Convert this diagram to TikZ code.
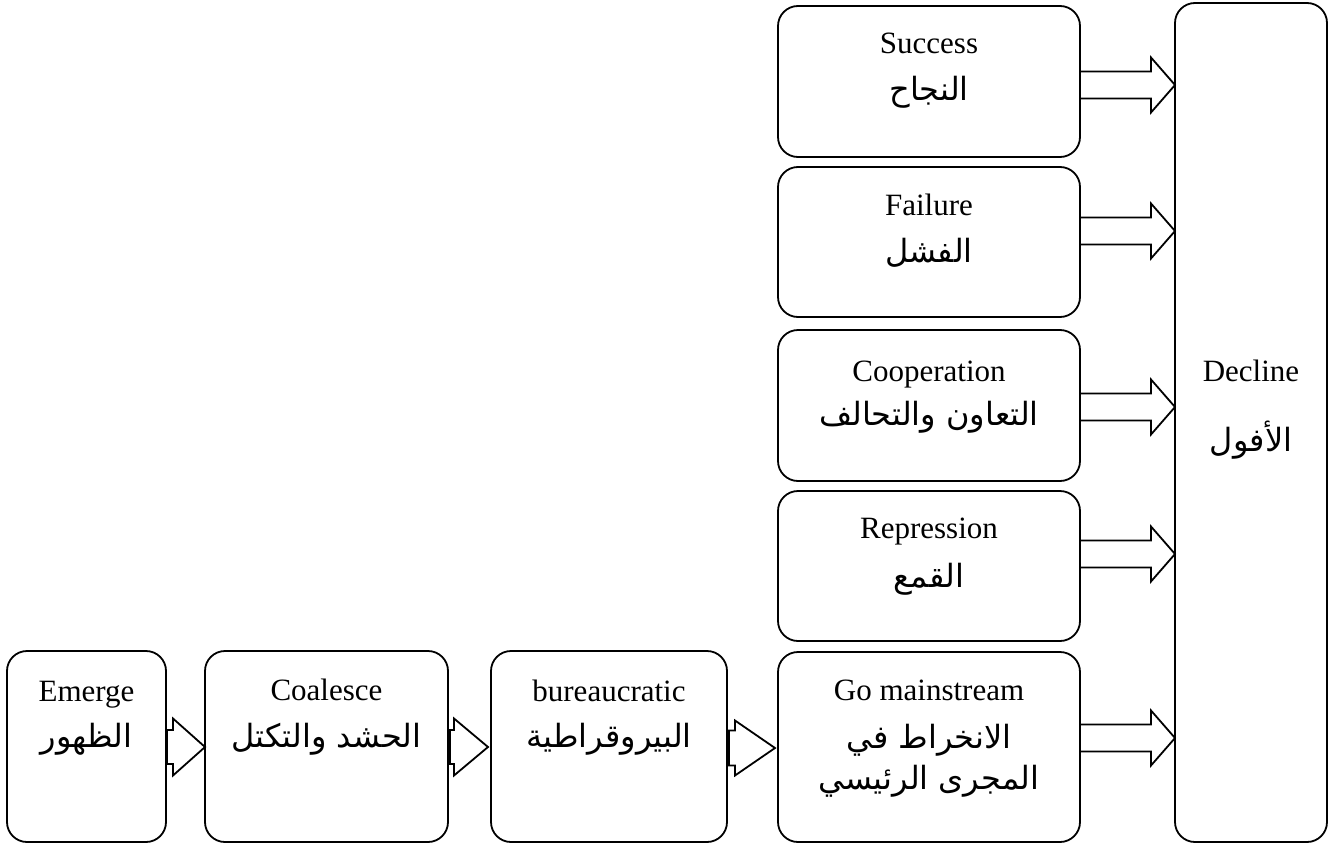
\documentclass[tikz,border=0pt]{standalone}
\usepackage{fontspec}
\setmainfont{Liberation Serif}
\newfontfamily\arabicfont[Script=Arabic]{DejaVu Sans}
\TeXXeTstate=1
\usetikzlibrary{calc}
% #1 from, #2 to, #3 y, #4 shaft half, #5 head half, #6 head length, #7 start offset, #8 tip gap
\newcommand{\harrow}[8]{%
  \coordinate (hs) at ($(#1.east |- 0,#3)+(#7,0)$);
  \coordinate (he) at ($(#2.west |- 0,#3)+(-#8,0)$);
  \draw[blk] ($(hs)+(0,-#4)$) -- ($(he)+(-#6,-#4)$) -- ($(he)+(-#6,-#5)$) -- (he)
    -- ($(he)+(-#6,#5)$) -- ($(he)+(-#6,#4)$) -- ($(hs)+(0,#4)$) -- cycle;
}
\begin{document}
\begin{tikzpicture}[x=1pt,y=-1pt,
  box/.style={draw, line width=1.8pt, rounded corners=20pt, inner sep=0pt, outer sep=0pt},
  en/.style={anchor=base, font=\fontsize{31}{36}\selectfont, inner sep=0pt},
  ar/.style={anchor=base, font=\arabicfont\fontsize{32}{38}\selectfont, inner sep=0pt},
  blk/.style={draw, line width=1.8pt, fill=white, line join=miter}]
\useasboundingbox (0,0) rectangle (1333,843);

\node[box, minimum width=159pt, minimum height=191pt] (emerge) at (86.5,746.5) {};
\node[box, minimum width=243pt, minimum height=191pt] (coal) at (326.5,746.5) {};
\node[box, minimum width=236pt, minimum height=191pt] (bur) at (609,746.5) {};
\node[box, minimum width=302pt, minimum height=190pt] (go) at (929,747) {};
\node[box, minimum width=302pt, minimum height=150pt] (rep) at (929,566) {};
\node[box, minimum width=302pt, minimum height=151pt] (coop) at (929,405.5) {};
\node[box, minimum width=302pt, minimum height=150pt] (fail) at (929,242) {};
\node[box, minimum width=302pt, minimum height=151pt] (succ) at (929,81.5) {};
\node[box, minimum width=152pt, minimum height=839pt] (decl) at (1251,422.5) {};

\node[en] (emergeE) at ($(emerge.north)+(0,50)$) {Emerge};
\node[ar] (emergeA) at ($(emerge.north)+(0,96)$) {\beginR الظهور\endR};
\node[en] (coalE) at ($(coal.north)+(0,49)$) {Coalesce};
\node[ar] (coalA) at ($(coal.north)+(0,96)$) {\beginR الحشد والتكتل\endR};
\node[en] (burE) at ($(bur.north)+(0,50)$) {bureaucratic};
\node[ar] (burA) at ($(bur.north)+(0,96)$) {\beginR البيروقراطية\endR};
\node[en] (goE) at ($(go.north)+(0,48)$) {Go mainstream};
\node[ar] (goA1) at ($(go.north)+(0,96)$) {\beginR الانخراط في\endR};
\node[ar] (goA2) at ($(go.north)+(0,137)$) {\beginR المجرى الرئيسي\endR};
\node[en] (repE) at ($(rep.north)+(0,47)$) {Repression};
\node[ar] (repA) at ($(rep.north)+(0,96)$) {\beginR القمع\endR};
\node[en] (coopE) at ($(coop.north)+(0,51)$) {Cooperation};
\node[ar] (coopA) at ($(coop.north)+(0,95)$) {\beginR التعاون والتحالف\endR};
\node[en] (failE) at ($(fail.north)+(0,48)$) {Failure};
\node[ar] (failA) at ($(fail.north)+(0,95)$) {\beginR الفشل\endR};
\node[en] (succE) at ($(succ.north)+(0,47)$) {Success};
\node[ar] (succA) at ($(succ.north)+(0,94)$) {\beginR النجاح\endR};
\node[en] (declE) at ($(decl.north)+(0,378)$) {Decline};
\node[ar] (declA) at ($(decl.north)+(0,448)$) {\beginR الأفول\endR};

\harrow{succ}{decl}{85}{13.5}{27.5}{24}{0}{0}
\harrow{fail}{decl}{231}{13.5}{27.5}{24}{0}{0}
\harrow{coop}{decl}{407}{13.5}{27.5}{24}{0}{0}
\harrow{rep}{decl}{554}{13.5}{27.5}{24}{0}{0}
\harrow{go}{decl}{738}{13.5}{27.5}{24}{0}{0}
\harrow{emerge}{coal}{747}{17}{28.5}{32}{1}{0}
\harrow{coal}{bur}{747}{17}{28.5}{34}{2}{3}
\harrow{bur}{go}{748}{17.5}{27.5}{40}{2}{3}
\end{tikzpicture}
\end{document}
